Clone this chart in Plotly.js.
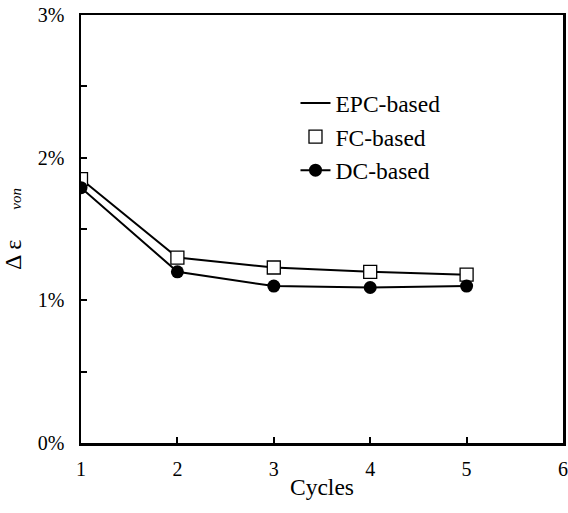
<!DOCTYPE html>
<html>
<head>
<meta charset="utf-8">
<script src="https://cdn.plot.ly/plotly-3.0.1.min.js"></script>
<style>html,body{margin:0;padding:0;background:#fff;}#chart{width:568px;height:513px;}</style>
</head>
<body>
<div id="chart"></div>
<script>
var cycles = [1, 2, 3, 4, 5];
var epcValues = [0.0185, 0.0130, 0.0123, 0.0120, 0.0118];
var fcValues = [0.0185, 0.0130, 0.0123, 0.0120, 0.0118];
var dcValues = [0.0179, 0.0120, 0.0110, 0.0109, 0.0110];
var seriesNames = ['EPC-based', 'FC-based', 'DC-based'];
var xTickVals = [1, 2, 3, 4, 5, 6];
var xTickText = ['1', '2', '3', '4', '5', '6'];
var yTickVals = [0, 0.005, 0.01, 0.015, 0.02, 0.025, 0.03];
var yTickText = ['0%', '', '1%', '', '2%', '', '3%'];

var font = 'Liberation Serif, Times New Roman, serif';
var traces = [
  {x: cycles, y: epcValues, name: seriesNames[0], mode: 'lines', type: 'scatter',
   line: {color: '#000', width: 2}},
  {x: cycles, y: fcValues, name: seriesNames[1], mode: 'markers', type: 'scatter',
   marker: {symbol: 'square', size: 13, color: '#fff', line: {color: '#000', width: 1.3}}},
  {x: cycles, y: dcValues, name: seriesNames[2], mode: 'lines+markers', type: 'scatter',
   line: {color: '#000', width: 2},
   marker: {symbol: 'circle', size: 13, color: '#000'}}
];
var layout = {
  width: 568, height: 513,
  margin: {l: 81, r: 5, t: 15, b: 70},
  paper_bgcolor: '#fff', plot_bgcolor: '#fff',
  font: {family: font, color: '#000', size: 20},
  showlegend: true,
  legend: {x: 0.445, y: 0.845, xanchor: 'left', yanchor: 'top', bgcolor: 'rgba(0,0,0,0)',
           font: {family: font, size: 23.5, color: '#000'}, tracegroupgap: 0},
  xaxis: {range: [1, 6], tickvals: xTickVals, ticktext: xTickText,
          ticks: 'inside', ticklen: 6, tickwidth: 2, tickcolor: '#000',
          showline: true, linecolor: '#000', linewidth: 2.5, mirror: true,
          showgrid: false, zeroline: false, ticklabelstandoff: 6,
          title: {text: 'Cycles', font: {family: font, size: 23.5}, standoff: 0},
          tickfont: {family: font, size: 20}},
  yaxis: {range: [0, 0.03], tickvals: yTickVals, ticktext: yTickText,
          ticks: 'inside', ticklen: 6, tickwidth: 2, tickcolor: '#000',
          showline: true, linecolor: '#000', linewidth: 2.5, mirror: true,
          showgrid: false, zeroline: false, ticklabelstandoff: 10,
          title: {text: 'Δ ε\u00a0\u00a0\u00a0\u00a0\u00a0<span style="font-size:15px"><i>von</i></span>',
                  font: {family: font, size: 24}, standoff: 12},
          tickfont: {family: font, size: 20}}
};
Plotly.newPlot('chart', traces, layout, {displayModeBar: false, staticPlot: true});
</script>
</body>
</html>
